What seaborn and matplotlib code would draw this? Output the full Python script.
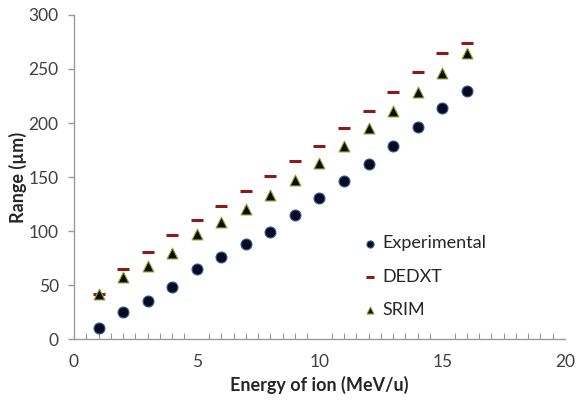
import numpy as np
import pandas as pd
import seaborn as sns
import matplotlib.pyplot as plt
from matplotlib.ticker import MultipleLocator

energy = [1, 2, 3, 4, 5, 6, 7, 8, 9, 10, 11, 12, 13, 14, 15, 16]
experimental = [10, 25, 35, 48, 65, 76, 88, 99, 115, 131, 146, 162, 179, 196, 214, 230]
dedxt = [42, 65, 81, 96, 110, 123, 137, 151, 165, 179, 195, 211, 229, 247, 265, 274]
srim = [42, 57, 68, 80, 97, 108, 120, 133, 147, 163, 179, 195, 211, 229, 246, 265]

df = pd.DataFrame({'energy': energy, 'Experimental': experimental,
                   'DEDXT': dedxt, 'SRIM': srim})

sns.set_style('white')
plt.rcParams['font.family'] = ['Lato', 'DejaVu Sans']

fig = plt.figure(figsize=(5.79, 4.01), dpi=100)
ax = fig.add_axes([0.1278, 0.1546, 0.848, 0.808])

sns.scatterplot(data=df, x='energy', y='Experimental', ax=ax, marker='o', s=62,
                color='#0a0a1e', edgecolor='#2e5f9e', linewidth=0.8, label='Experimental')
sns.scatterplot(data=df, x='energy', y='DEDXT', ax=ax, marker='_', s=85,
                color='#8b1a1a', linewidth=2.2, label='DEDXT')
sns.scatterplot(data=df, x='energy', y='SRIM', ax=ax, marker='^', s=62,
                color='#0a0f00', edgecolor='#9aaa3a', linewidth=0.8, label='SRIM')

ax.set_xlim(0, 20)
ax.set_ylim(0, 300)
ax.xaxis.set_major_locator(MultipleLocator(5))
ax.xaxis.set_minor_locator(MultipleLocator(0.5))
ax.yaxis.set_major_locator(MultipleLocator(50))

for s in ['top', 'right']:
    ax.spines[s].set_visible(False)
for s in ['left', 'bottom']:
    ax.spines[s].set_color('#999999')
    ax.spines[s].set_linewidth(1.0)

ax.tick_params(axis='x', which='major', direction='inout', length=8, width=1,
               color='#999999', labelsize=12.5, pad=7, labelcolor='#404040')
ax.tick_params(axis='x', which='minor', direction='in', length=4, width=0.8,
               color='#999999', bottom=True)
ax.tick_params(axis='y', which='major', direction='out', length=4, width=1,
               color='#999999', labelsize=12.5, labelcolor='#404040', left=True, pad=7)

ax.set_xlabel('Energy of ion (MeV/u)', fontsize=13, fontweight='bold', labelpad=4)
ax.set_ylabel('Range (µm)', fontsize=13, fontweight='bold', labelpad=1)

ax.legend(loc='upper left', bbox_to_anchor=(0.55, 0.37), frameon=False,
          fontsize=13, labelspacing=0.95, handletextpad=0.1, markerscale=0.65,
          handlelength=1.1)

fig.savefig('out.png', dpi=100)
